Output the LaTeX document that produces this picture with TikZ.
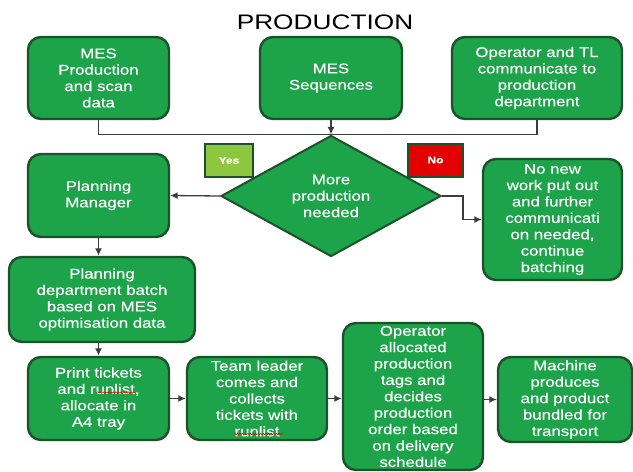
\documentclass[tikz,border=0pt]{standalone}
\usepackage{fontspec}
\setmainfont{Liberation Sans}
\newfontfamily\boxfont{Liberation Sans}[FakeStretch=1.2,FakeBold=0.4]
\newfontfamily\titlefont{Liberation Sans}[FakeStretch=1.25]
\usetikzlibrary{arrows.meta,shapes.geometric,decorations.pathmorphing}

\definecolor{boxfill}{RGB}{29,163,73}
\definecolor{boxedge}{RGB}{28,82,42}
\definecolor{yesfill}{RGB}{141,198,63}
\definecolor{nofill}{RGB}{226,0,0}
\definecolor{wire}{RGB}{60,60,60}

\tikzset{
  sz/.style 2 args={minimum width=#1pt, minimum height=#2pt},
  stepbox/.style={draw=boxedge, fill=boxfill, line width=2.4pt,
    rounded corners=13pt, text=white, align=center, inner sep=0pt,
    font=\boxfont\fontsize{14}{16.4}\selectfont},
  decision/.style={diamond, draw=boxedge, fill=boxfill, line width=2pt,
    text=white, align=center, inner sep=0pt,
    font=\boxfont\fontsize{14}{16.4}\selectfont},
  tag/.style={draw=boxedge, line width=2pt, text=white, inner sep=0pt,
    font=\boxfont\bfseries\fontsize{10}{12}\selectfont},
  wireline/.style={draw=wire, line width=1.3pt},
  arr/.style={wireline, -{Latex[length=7.5pt,width=7pt]}},
  spell/.style={draw=red!85!black, line width=0.5pt,
    decorate, decoration={snake, amplitude=0.7pt, segment length=2.6pt}}
}

\begin{document}
\begin{tikzpicture}[x=1pt,y=-1pt]
\useasboundingbox (0,0) rectangle (633,472);

\node[font=\titlefont\fontsize{21}{24}\selectfont] (title) at (325,22) {PRODUCTION};

% input sources
\node[stepbox, sz={141}{82}] (mes) at (98.5,78) {MES\\Production\\and scan\\data};
\node[stepbox, sz={142}{82}] (seq) at (331,78) {MES\\Sequences};
\node[stepbox, sz={170}{82}] (op)  at (537,78) {Operator and TL\\communicate to\\production\\department};

% decision
\node[decision, sz={220}{94}] (dia) at (331,196) {More\\production\\needed};
\node[tag, fill=yesfill, sz={48}{33}] (yes) at (229,160.5) {Yes};
\node[tag, fill=nofill,  sz={55}{33}] (no)  at (435.5,160) {No};

% branches
\node[stepbox, sz={141}{83}]  (pm)    at (98.5,195.5) {Planning\\Manager};
\node[stepbox, sz={139}{121}] (nonew) at (552.5,219.5) {No new\\work put out\\and further\\communicati\\on needed,\\continue\\batching};
\node[stepbox, sz={186}{85}]  (pd)    at (102,299.5) {Planning\\department batch\\based on MES\\optimisation data};

% production line
\node[stepbox, sz={141}{83}]  (print) at (98.5,398.5) {Print tickets\\and runlist,\\allocate in\\A4 tray};
\node[stepbox, sz={140}{83}]  (team)  at (257,398.5) {Team leader\\comes and\\collects\\tickets with\\runlist};
\node[stepbox, sz={140}{147}] (oper)  at (413,396.5) {Operator\\allocated\\production\\tags and\\decides\\production\\order based\\on delivery\\schedule};
\node[stepbox, sz={134}{85}]  (mach)  at (565,399.5) {Machine\\produces\\and product\\bundled for\\transport};

% spell-check marks under "runlist"
\draw[spell] (97,392.5) -- (135,392.5);
\draw[spell] (234,434) -- (283,434);

% connectors
\draw[wireline] (mes.south) -- ++(0,14) -| (op.south);
\draw[arr] (seq.south) -- (dia.north);
\draw[arr] (dia.west) -- (pm.east);
\draw[arr] (dia.east) -- ++(21,0) |- (nonew.west);
\draw[arr] (pm.south) -- (pm.south |- pd.north);
\draw[arr] (pm.south |- pd.south) -- (print.north);
\draw[arr] (print.east) -- (team.west);
\draw[arr] (team.east) -- (oper.west |- team.east);
\draw[arr] (oper.east |- mach.west) -- (mach.west);
\end{tikzpicture}
\end{document}
